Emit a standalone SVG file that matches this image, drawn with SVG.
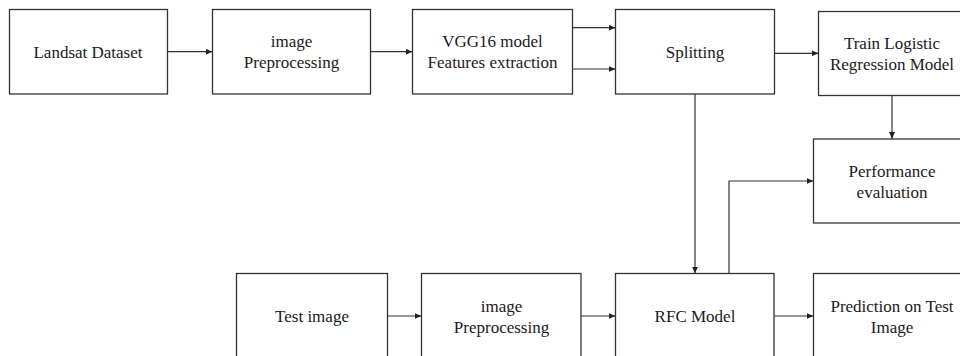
<svg xmlns="http://www.w3.org/2000/svg" width="960" height="356" viewBox="0 0 960 356">
<defs>
<style>
.box{fill:#fff;stroke:#333;stroke-width:1.3}
text{font-family:'Liberation Serif','DejaVu Serif',serif;font-size:17px;fill:#1a1a1a;text-anchor:middle}
.con{fill:none;stroke:#333;stroke-width:1.2}
</style>
<marker id="ah" markerWidth="7" markerHeight="6" refX="7" refY="3" orient="auto" markerUnits="userSpaceOnUse">
<path d="M0,0 L7,3 L0,6 Z" fill="#222"/>
</marker>
</defs>
<rect width="960" height="356" fill="#fff"/>
<g id="landsat"><rect class="box" x="9.5" y="9.5" width="158" height="84.5"/><text x="88" y="57.5">Landsat Dataset</text></g>
<g id="preproc1"><rect class="box" x="212.5" y="9.5" width="158" height="84.5"/><text x="291.5" y="47">image</text><text x="291.5" y="68">Preprocessing</text></g>
<g id="vgg16"><rect class="box" x="412.5" y="9.5" width="160" height="84.5"/><text x="492.5" y="47">VGG16 model</text><text x="492.5" y="68">Features extraction</text></g>
<g id="splitting"><rect class="box" x="615.5" y="9.5" width="159" height="84.5"/><text x="695" y="57.5">Splitting</text></g>
<g id="trainlr"><rect class="box" x="818.5" y="11.5" width="150" height="84"/><text x="892" y="49">Train Logistic</text><text x="892" y="70">Regression Model</text></g>
<g id="perf"><rect class="box" x="813.5" y="139" width="155" height="84"/><text x="892" y="177">Performance</text><text x="892" y="197.5">evaluation</text></g>
<g id="testimg"><rect class="box" x="236.5" y="273.5" width="151" height="95"/><text x="312" y="322">Test image</text></g>
<g id="preproc2"><rect class="box" x="421.5" y="273.5" width="159.5" height="95"/><text x="501.5" y="312">image</text><text x="501.5" y="332.5">Preprocessing</text></g>
<g id="rfc"><rect class="box" x="615.5" y="273.5" width="158.5" height="95"/><text x="695" y="322">RFC Model</text></g>
<g id="predict"><rect class="box" x="813.5" y="273.5" width="155" height="95"/><text x="892" y="311.5">Prediction on Test</text><text x="892" y="332.5">Image</text></g>
<g id="connectors">
<line class="con" x1="167.5" y1="51.7" x2="212.5" y2="51.7" marker-end="url(#ah)"/>
<line class="con" x1="370.5" y1="51.7" x2="412.5" y2="51.7" marker-end="url(#ah)"/>
<line class="con" x1="572.5" y1="27.7" x2="615.5" y2="27.7" marker-end="url(#ah)"/>
<line class="con" x1="572.5" y1="69" x2="615.5" y2="69" marker-end="url(#ah)"/>
<line class="con" x1="774.5" y1="53.3" x2="818.5" y2="53.3" marker-end="url(#ah)"/>
<line class="con" x1="892" y1="95.5" x2="892" y2="139" marker-end="url(#ah)"/>
<line class="con" x1="695" y1="94" x2="695" y2="273.5" marker-end="url(#ah)"/>
<polyline class="con" points="729,273.5 729,181 813.5,181" marker-end="url(#ah)"/>
<line class="con" x1="387.5" y1="316" x2="421.5" y2="316" marker-end="url(#ah)"/>
<line class="con" x1="581" y1="316" x2="615.5" y2="316" marker-end="url(#ah)"/>
<line class="con" x1="774" y1="316" x2="813.5" y2="316" marker-end="url(#ah)"/>
</g>
</svg>
